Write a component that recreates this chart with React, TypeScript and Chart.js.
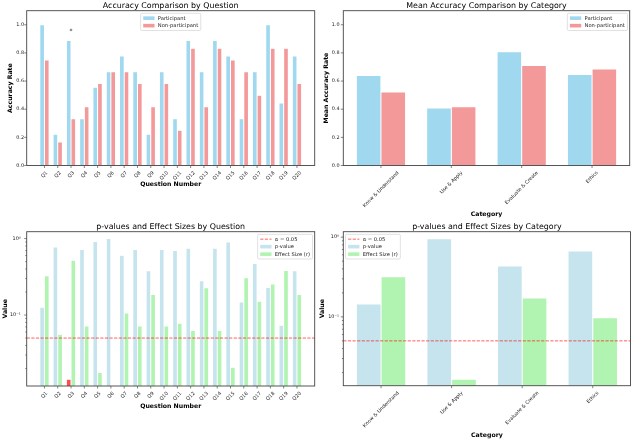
import React, { useEffect, useRef } from 'react';
import { Chart, registerables } from 'chart.js';

Chart.register(...registerables);

const FONT = "'DejaVu Sans', sans-serif";

// ---------- data ----------
const QUESTIONS = ['Q1', 'Q2', 'Q3', 'Q4', 'Q5', 'Q6', 'Q7', 'Q8', 'Q9', 'Q10',
  'Q11', 'Q12', 'Q13', 'Q14', 'Q15', 'Q16', 'Q17', 'Q18', 'Q19', 'Q20'];
const PARTICIPANT_ACC = [1.0, 0.222, 0.889, 0.333, 0.556, 0.667, 0.778, 0.667, 0.222, 0.667,
  0.333, 0.889, 0.667, 0.889, 0.778, 0.333, 0.667, 1.0, 0.444, 0.778];
const NON_PARTICIPANT_ACC = [0.75, 0.167, 0.333, 0.417, 0.583, 0.667, 0.667, 0.583, 0.417, 0.583,
  0.25, 0.833, 0.417, 0.833, 0.75, 0.667, 0.5, 0.833, 0.833, 0.583];

const CATEGORIES = ['Know & Understand', 'Use & Apply', 'Evaluate & Create', 'Ethics'];
const PARTICIPANT_MEAN = [0.639, 0.409, 0.808, 0.646];
const NON_PARTICIPANT_MEAN = [0.523, 0.418, 0.71, 0.686];

const Q_P_VALUES = [0.126, 0.778, 0.0145, 0.719, 0.914, 1.0, 0.606, 0.719, 0.379, 0.719,
  0.697, 0.748, 0.28, 0.748, 0.905, 0.148, 0.472, 0.23, 0.0733, 0.379];
const Q_EFFECT_SIZES = [0.326, 0.056, 0.522, 0.0719, 0.0177, 0, 0.106, 0.0719, 0.186, 0.0719,
  0.0779, 0.063, 0.227, 0.063, 0.0208, 0.307, 0.152, 0.254, 0.383, 0.186];

const CAT_P_VALUES = [0.145, 0.953, 0.434, 0.668];
const CAT_EFFECT_SIZES = [0.319, 0.0165, 0.173, 0.0972];

const ALPHA = 0.05;
const ACC_TICKS = [0, 0.2, 0.4, 0.6, 0.8, 1.0];
const LOG_TICKS = [0.02, 0.03, 0.04, 0.05, 0.06, 0.07, 0.08, 0.09,
  0.1, 0.2, 0.3, 0.4, 0.5, 0.6, 0.7, 0.8, 0.9, 1];
const LOG_LABELS: Record<string, string> = { '1': '10\u2070', '0.1': '10\u207B\u00B9' };

// ---------- styles ----------
const C_PART = 'rgba(135, 206, 235, 0.8)';
const C_NONPART = 'rgba(240, 128, 128, 0.8)';
const C_PVAL = 'rgba(173, 216, 230, 0.7)';
const C_PVAL_SIG = 'rgba(255, 0, 0, 0.7)';
const C_EFFECT = 'rgba(144, 238, 144, 0.7)';
const C_ALPHA = 'rgba(255, 0, 0, 0.7)';

const W = 317;
const H = 221;
const BAR_W = 0.35;
const TITLE_SIZE = 7.9;
const LABEL_SIZE = 6.2;
const TICK_SIZE = 4.9;
const LEGEND_SIZE = 5.2;
const TITLE_LH = TITLE_SIZE * 1.2;
const LABEL_LH = LABEL_SIZE * 1.2;

type LegendItem = { label: string; color: string; kind: 'patch' | 'dash' };

const bars = (label: string, values: number[], color: string | string[]) => ({
  label,
  data: values.map((v, i) => ({ x: i, y: v })),
  backgroundColor: color,
  borderColor: '#ffffff',
  borderWidth: 0.5,
  categoryPercentage: 2 * BAR_W,
  barPercentage: 1,
});

// spines, tick marks and rotated (centre-aligned) category labels
const framePlugin = {
  id: 'mplFrame',
  afterDraw(chart: any) {
    const { ctx, chartArea: a } = chart;
    const xs = chart.scales.x;
    const ys = chart.scales.y;
    const labels: string[] = chart.data.labels;
    ctx.save();
    ctx.strokeStyle = '#333';
    ctx.lineWidth = 0.6;
    ctx.beginPath();
    ys.ticks.forEach((t: any) => {
      const py = ys.getPixelForValue(t.value);
      const len = t.label ? 2.5 : 1.4;
      ctx.moveTo(a.left, py);
      ctx.lineTo(a.left - len, py);
    });
    labels.forEach((_, i) => {
      const px = xs.getPixelForValue(i);
      ctx.moveTo(px, a.bottom);
      ctx.lineTo(px, a.bottom + 2.5);
    });
    ctx.stroke();
    ctx.strokeStyle = '#444';
    ctx.lineWidth = 0.9;
    ctx.strokeRect(a.left, a.top, a.right - a.left, a.bottom - a.top);

    ctx.font = `${TICK_SIZE}px ${FONT}`;
    ctx.fillStyle = '#222';
    ctx.textAlign = 'center';
    ctx.textBaseline = 'middle';
    const top = a.bottom + 4.6;
    labels.forEach((lab, i) => {
      const px = xs.getPixelForValue(i);
      const w = ctx.measureText(lab).width;
      const half = ((w + TICK_SIZE * 1.16) * Math.SQRT1_2) / 2;
      ctx.save();
      ctx.translate(px, top + half);
      ctx.rotate(-Math.PI / 4);
      ctx.fillText(lab, 0, 0);
      ctx.restore();
    });
    ctx.restore();
  },
};

const alphaPlugin = {
  id: 'mplAlpha',
  afterDatasetsDraw(chart: any) {
    const { ctx, chartArea: a } = chart;
    const py = chart.scales.y.getPixelForValue(ALPHA);
    ctx.save();
    ctx.strokeStyle = C_ALPHA;
    ctx.lineWidth = 0.9;
    ctx.setLineDash([3.2, 1.4]);
    ctx.beginPath();
    ctx.moveTo(a.left, py);
    ctx.lineTo(a.right, py);
    ctx.stroke();
    ctx.restore();
  },
};

const makeStarPlugin = (pValues: number[], heights: number[]) => ({
  id: 'mplStars',
  afterDatasetsDraw(chart: any) {
    const { ctx } = chart;
    ctx.save();
    ctx.font = `6px ${FONT}`;
    ctx.fillStyle = '#000';
    ctx.textAlign = 'center';
    ctx.textBaseline = 'alphabetic';
    pValues.forEach((p, i) => {
      if (p >= ALPHA) return;
      const px = chart.scales.x.getPixelForValue(i);
      const py = chart.scales.y.getPixelForValue(heights[i] + 0.05);
      ctx.fillText('*', px, py);
    });
    ctx.restore();
  },
});

const makeLegendPlugin = (items: LegendItem[], align: 'left' | 'center' | 'right') => ({
  id: 'mplLegend',
  afterDraw(chart: any) {
    const { ctx, chartArea: a } = chart;
    ctx.save();
    ctx.font = `${LEGEND_SIZE}px ${FONT}`;
    const textW = Math.max(...items.map((it) => ctx.measureText(it.label).width));
    const padX = 2.6;
    const handleW = 11.3;
    const gap = 3.3;
    const rowH = 7.5;
    const padY = 4.85;
    const w = padX + handleW + gap + textW + padX;
    const h = padY * 2 + (items.length - 1) * rowH;
    const inset = 2.2;
    let left = a.left + inset;
    if (align === 'center') left = (a.left + a.right) / 2 - w / 2;
    if (align === 'right') left = a.right - inset - w;
    const top = a.top + 2.6;

    ctx.beginPath();
    ctx.roundRect(left, top, w, h, 1.2);
    ctx.fillStyle = 'rgba(255,255,255,0.8)';
    ctx.fill();
    ctx.strokeStyle = '#cccccc';
    ctx.lineWidth = 0.6;
    ctx.stroke();

    items.forEach((it, i) => {
      const cy = top + padY + i * rowH;
      const hx = left + padX;
      if (it.kind === 'patch') {
        ctx.fillStyle = it.color;
        ctx.fillRect(hx, cy - 1.8, handleW, 3.6);
      } else {
        ctx.save();
        ctx.strokeStyle = it.color;
        ctx.lineWidth = 0.9;
        ctx.setLineDash([3.2, 1.4]);
        ctx.beginPath();
        ctx.moveTo(hx, cy);
        ctx.lineTo(hx + handleW, cy);
        ctx.stroke();
        ctx.restore();
      }
      ctx.fillStyle = '#222';
      ctx.textAlign = 'left';
      ctx.textBaseline = 'middle';
      ctx.fillText(it.label, hx + handleW + gap, cy);
    });
    ctx.restore();
  },
});

interface PanelSpec {
  title: string;
  labels: string[];
  datasets: any[];
  xLabel: string;
  yLabel: string;
  yScale: any;
  plot: { left: number; right: number; top: number; bottom: number };
  yTitleX: number;
  xTitleY: number;
  tickPad: number;
  extra: any[];
}

function buildConfig(s: PanelSpec): any {
  const n = s.labels.length;
  const span = n - 1 + 2 * BAR_W;
  const margin = 0.05 * span;
  const xBottom = s.xTitleY + LABEL_LH / 2;
  const labelFont = { family: FONT, size: LABEL_SIZE, weight: 'bold' as const };
  return {
    type: 'bar',
    data: { labels: s.labels, datasets: s.datasets },
    options: {
      animation: false,
      responsive: true,
      maintainAspectRatio: false,
      layout: {
        padding: { left: 0, right: W - s.plot.right, top: s.plot.top - TITLE_LH, bottom: H - xBottom },
      },
      scales: {
        x: {
          type: 'linear',
          min: -BAR_W - margin,
          max: n - 1 + BAR_W + margin,
          offset: false,
          grid: { display: false, drawTicks: false, offset: false },
          border: { display: false },
          ticks: { display: false },
          afterBuildTicks: (sc: any) => {
            sc.ticks = s.labels.map((_, i) => ({ value: i }));
          },
          afterFit: (sc: any) => {
            sc.height = xBottom - s.plot.bottom;
          },
          title: { display: true, text: s.xLabel, font: labelFont, color: '#000', padding: 0 },
        },
        y: {
          ...s.yScale,
          grid: { display: false, drawTicks: false },
          border: { display: false },
          ticks: {
            ...s.yScale.ticks,
            padding: s.tickPad,
            color: '#222',
            autoSkip: false,
            font: { family: FONT, size: TICK_SIZE },
          },
          afterFit: (sc: any) => {
            sc.width = s.plot.left;
          },
          title: {
            display: true,
            text: s.yLabel,
            font: labelFont,
            color: '#000',
            padding: { top: s.yTitleX - LABEL_LH / 2, bottom: 0 },
          },
        },
      },
      plugins: {
        legend: { display: false },
        tooltip: { enabled: false },
        title: {
          display: true,
          fullSize: false,
          text: s.title,
          color: '#000',
          font: { family: FONT, size: TITLE_SIZE, weight: 'normal' },
          padding: 0,
        },
      },
    },
    plugins: [framePlugin, ...s.extra],
  };
}

const accuracyY = {
  type: 'linear',
  min: 0,
  max: 1.1,
  afterBuildTicks: (sc: any) => {
    sc.ticks = ACC_TICKS.map((v) => ({ value: v }));
  },
  ticks: { callback: (v: number) => v.toFixed(1) },
};

const logY = (min: number, max: number) => ({
  type: 'logarithmic',
  min,
  max,
  afterBuildTicks: (sc: any) => {
    sc.ticks = LOG_TICKS.filter((v) => v >= min && v <= max).map((v) => ({ value: v }));
  },
  ticks: { callback: (v: number) => LOG_LABELS[String(v)] ?? '' },
});

const accLegend: LegendItem[] = [
  { label: 'Participant', color: C_PART, kind: 'patch' },
  { label: 'Non-participant', color: C_NONPART, kind: 'patch' },
];
const statLegend: LegendItem[] = [
  { label: '\u03B1 = 0.05', color: C_ALPHA, kind: 'dash' },
  { label: 'p-value', color: C_PVAL, kind: 'patch' },
  { label: 'Effect Size (r)', color: C_EFFECT, kind: 'patch' },
];

const SPECS: { left: number; top: number; spec: PanelSpec }[] = [
  {
    left: 0,
    top: 0,
    spec: {
      title: 'Accuracy Comparison by Question',
      labels: QUESTIONS,
      datasets: [bars('Participant', PARTICIPANT_ACC, C_PART), bars('Non-participant', NON_PARTICIPANT_ACC, C_NONPART)],
      xLabel: 'Question Number',
      yLabel: 'Accuracy Rate',
      yScale: accuracyY,
      plot: { left: 26.7, right: 314.7, top: 10.7, bottom: 165.5 },
      yTitleX: 10,
      xTitleY: 184.3,
      tickPad: 2.7,
      extra: [
        makeStarPlugin(Q_P_VALUES, PARTICIPANT_ACC.map((v, i) => Math.max(v, NON_PARTICIPANT_ACC[i]))),
        makeLegendPlugin(accLegend, 'center'),
      ],
    },
  },
  {
    left: W,
    top: 0,
    spec: {
      title: 'Mean Accuracy Comparison by Category',
      labels: CATEGORIES,
      datasets: [bars('Participant', PARTICIPANT_MEAN, C_PART), bars('Non-participant', NON_PARTICIPANT_MEAN, C_NONPART)],
      xLabel: 'Category',
      yLabel: 'Mean Accuracy Rate',
      yScale: accuracyY,
      plot: { left: 26.3, right: 312.7, top: 10.7, bottom: 165.5 },
      yTitleX: 9.7,
      xTitleY: 214,
      tickPad: 3.8,
      extra: [makeLegendPlugin(accLegend, 'right')],
    },
  },
  {
    left: 0,
    top: H,
    spec: {
      title: 'p-values and Effect Sizes by Question',
      labels: QUESTIONS,
      datasets: [
        bars('p-value', Q_P_VALUES, Q_P_VALUES.map((p) => (p < ALPHA ? C_PVAL_SIG : C_PVAL))),
        bars('Effect Size (r)', Q_EFFECT_SIZES, C_EFFECT),
      ],
      xLabel: 'Question Number',
      yLabel: 'Value',
      yScale: logY(0.0118, 1.23),
      plot: { left: 26.7, right: 314.7, top: 10.7, bottom: 165 },
      yTitleX: 5.7,
      xTitleY: 185,
      tickPad: 6,
      extra: [alphaPlugin, makeLegendPlugin(statLegend, 'right')],
    },
  },
  {
    left: W,
    top: H,
    spec: {
      title: 'p-values and Effect Sizes by Category',
      labels: CATEGORIES,
      datasets: [
        bars('p-value', CAT_P_VALUES, CAT_P_VALUES.map((p) => (p < ALPHA ? C_PVAL_SIG : C_PVAL))),
        bars('Effect Size (r)', CAT_EFFECT_SIZES, C_EFFECT),
      ],
      xLabel: 'Category',
      yLabel: 'Value',
      yScale: logY(0.0137, 1.17),
      plot: { left: 26.3, right: 313.5, top: 10.7, bottom: 164.7 },
      yTitleX: 5,
      xTitleY: 214,
      tickPad: 4.3,
      extra: [alphaPlugin, makeLegendPlugin(statLegend, 'left')],
    },
  },
];

const Panel: React.FC<{ left: number; top: number; spec: PanelSpec }> = ({ left, top, spec }) => {
  const canvasRef = useRef<HTMLCanvasElement>(null);

  useEffect(() => {
    if (!canvasRef.current) return;
    const chart = new Chart(canvasRef.current, buildConfig(spec));
    return () => chart.destroy();
  }, [spec]);

  return (
    <div style={{ position: 'absolute', left, top, width: W, height: H }}>
      <canvas ref={canvasRef}></canvas>
    </div>
  );
};

const App: React.FC = () => (
  <div style={{ position: 'absolute', left: 0, top: 0, width: 634, height: 442, background: '#fff' }}>
    {SPECS.map((p, i) => (
      <Panel key={i} left={p.left} top={p.top} spec={p.spec} />
    ))}
  </div>
);

export default App;
